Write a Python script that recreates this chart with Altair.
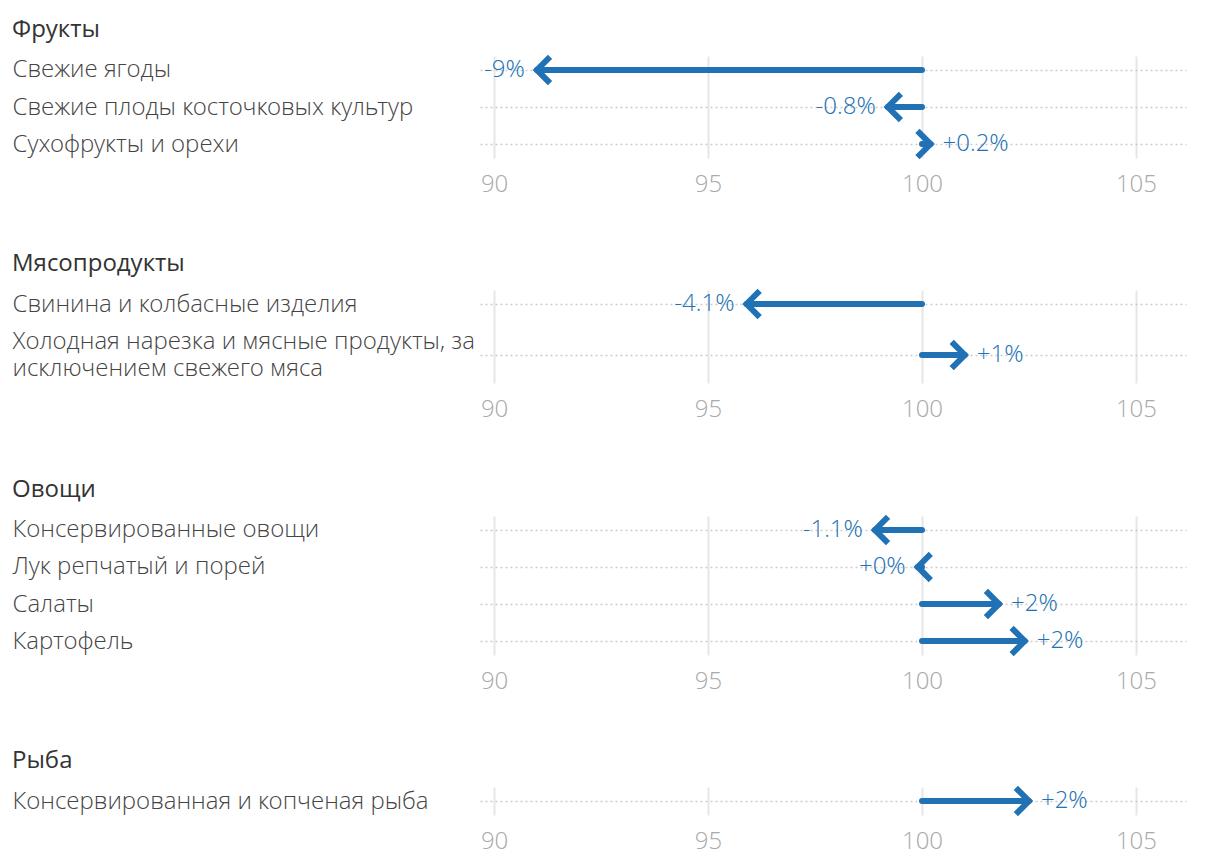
import altair as alt
import pandas as pd

groups = ["Фрукты", "Мясопродукты", "Овощи", "Рыба"]
items = [
    ["Свежие ягоды", "Свежие плоды косточковых культур", "Сухофрукты и орехи"],
    ["Свинина и колбасные изделия",
     "Холодная нарезка и мясные продукты, за|исключением свежего мяса"],
    ["Консервированные овощи", "Лук репчатый и порей", "Салаты", "Картофель"],
    ["Консервированная и копченая рыба"],
]
values = [[91.0, 99.2, 100.2], [95.9, 101.0], [98.9, 99.9, 101.8, 102.4], [102.5]]
labels = [["-9%", "-0.8%", "+0.2%"], ["-4.1%", "+1%"],
          ["-1.1%", "+0%", "+2%", "+2%"], ["+2%"]]
base_value = 100
x_ticks = [90, 95, 100, 105]

heights = [102, 93, 139, 28]
y_padding = [0.378, 0.4118, 0.378, 0.5]
y_align = [0.5, 1 / 3, 0.5, 0.5]

BLUE = "#2171b5"
FONT = '"Open Sans Light", "Open Sans"'
FONT_REG = "Open Sans"
FS = 24
CHEVRON = "M1,-1L0,0L1,1"


def panel(i):
    df = pd.DataFrame({"item": items[i], "value": values[i], "label": labels[i]})
    df["base"] = base_value
    base = alt.Chart(df).transform_calculate(
        ang="datum.value < datum.base ? 0 : 180"
    )
    x = alt.X(
        "value:Q",
        scale=alt.Scale(domain=[89.67, 106.17], nice=False, zero=False),
        axis=alt.Axis(
            values=x_ticks, grid=True, gridColor="#e6e6e6", gridWidth=2,
            domain=False, ticks=False, labelFontSize=FS, labelColor="#aaaaaa",
            labelFont=FONT, labelFontWeight=300, labelPadding=14, title=None,
        ),
    )
    y = alt.Y(
        "item:N", sort=items[i],
        scale=alt.Scale(type="point", padding=y_padding[i], align=y_align[i]),
        axis=alt.Axis(
            title=None, domain=False, ticks=False, tickSize=0,
            labelAlign="left", labelPadding=468, labelFontSize=FS,
            labelFont=FONT, labelFontWeight=300, labelColor="#444444",
            labelExpr="split(datum.label, '|')", labelLineHeight=27,
            labelOffset={"condition": {"test": "indexof(datum.value, '|') >= 0",
                                       "value": -13.5}, "value": 0},
            labelLimit=0, labelOverlap=False,
            grid=True, gridDash=[2, 3], gridColor="#cccccc", gridWidth=1.5,
        ),
    )
    yy = alt.Y("item:N", sort=items[i])
    shaft = base.mark_rule(color=BLUE, strokeWidth=6, strokeCap="round").encode(
        x=x, x2="base:Q", y=y
    )
    head = base.mark_point(
        shape=CHEVRON, size=484, filled=False, color=BLUE, strokeWidth=6,
        opacity=1, strokeJoin="miter", strokeCap="square",
    ).encode(x="value:Q", y=yy, angle=alt.Angle("ang:Q", scale=None))
    neg = base.transform_filter("datum.value < datum.base").mark_text(
        align="right", dx=-12, baseline="middle", fontSize=FS, font=FONT,
        fontWeight=300, color=BLUE,
    ).encode(x="value:Q", y=yy, text="label:N")
    pos = base.transform_filter("datum.value >= datum.base").mark_text(
        align="left", dx=12, baseline="middle", fontSize=FS, font=FONT,
        fontWeight=300, color=BLUE,
    ).encode(x="value:Q", y=yy, text="label:N")
    return alt.layer(shaft, head, neg, pos).properties(
        width=706, height=heights[i],
        title=alt.TitleParams(
            text=groups[i], anchor="start", frame="bounds", fontSize=FS,
            font=FONT_REG, fontWeight=400, color="#333333", offset=5,
        ),
    )


chart = alt.vconcat(*[panel(i) for i in range(4)], spacing=56).properties(
    padding={"left": 12, "top": 17, "right": 5, "bottom": 5}
).configure_view(stroke=None)

chart.save("out.html", embed_options={"renderer": "svg", "actions": False})
